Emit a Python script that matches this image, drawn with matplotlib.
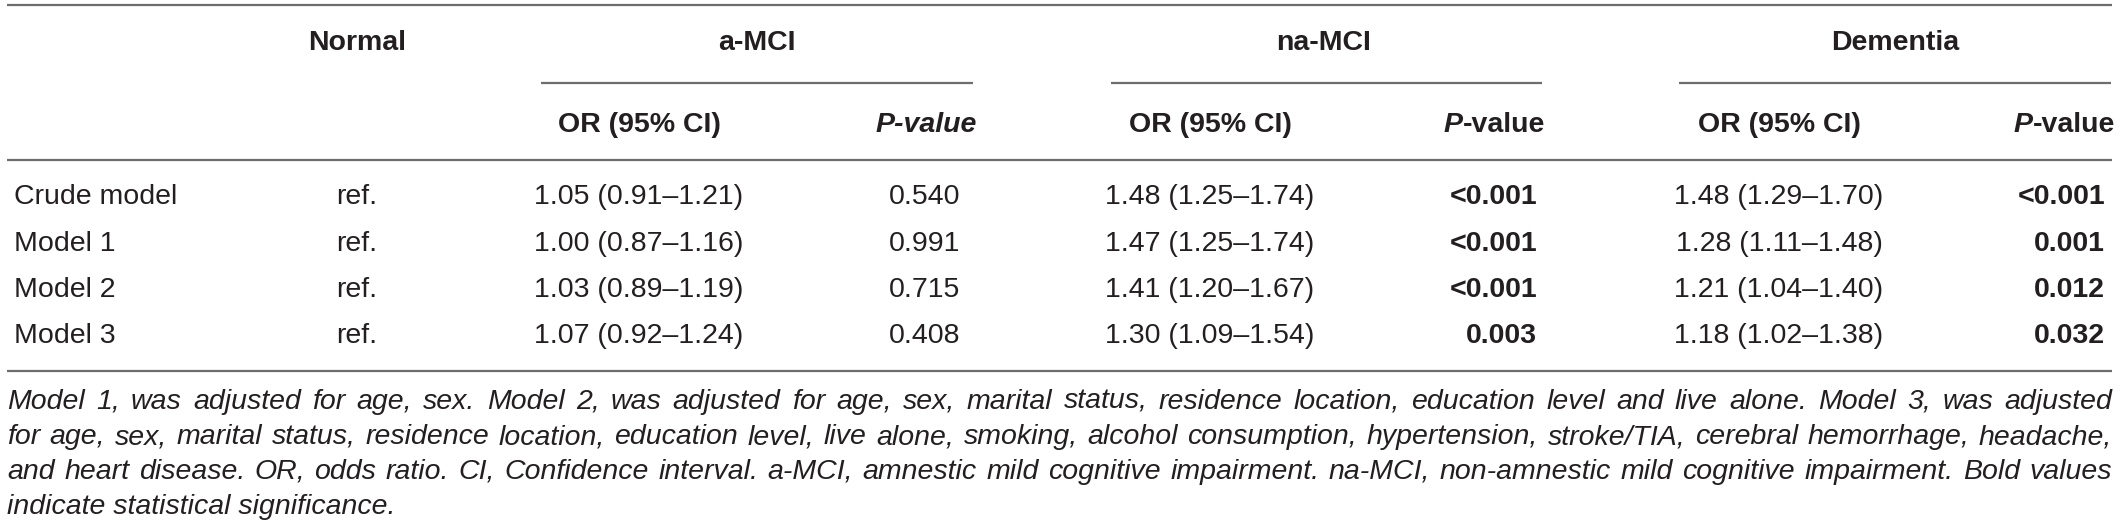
import matplotlib
matplotlib.use("Agg")
import matplotlib.pyplot as plt

# Table content
groups = ["Normal", "a-MCI", "na-MCI", "Dementia"]
models = ["Crude model", "Model 1", "Model 2", "Model 3"]
normal_ref = ["ref.", "ref.", "ref.", "ref."]
amci_or = ["1.05 (0.91\u20131.21)", "1.00 (0.87\u20131.16)", "1.03 (0.89\u20131.19)", "1.07 (0.92\u20131.24)"]
amci_p = ["0.540", "0.991", "0.715", "0.408"]
namci_or = ["1.48 (1.25\u20131.74)", "1.47 (1.25\u20131.74)", "1.41 (1.20\u20131.67)", "1.30 (1.09\u20131.54)"]
namci_p = ["<0.001", "<0.001", "<0.001", "0.003"]
dem_or = ["1.48 (1.29\u20131.70)", "1.28 (1.11\u20131.48)", "1.21 (1.04\u20131.40)", "1.18 (1.02\u20131.38)"]
dem_p = ["<0.001", "0.001", "0.012", "0.032"]

caption_lines = [
    "Model 1, was adjusted for age, sex. Model 2, was adjusted for age, sex, marital status, residence location, education level and live alone. Model 3, was adjusted",
    "for age, sex, marital status, residence location, education level, live alone, smoking, alcohol consumption, hypertension, stroke/TIA, cerebral hemorrhage, headache,",
    "and heart disease. OR, odds ratio. CI, Confidence interval. a-MCI, amnestic mild cognitive impairment. na-MCI, non-amnestic mild cognitive impairment. Bold values",
    "indicate statistical significance.",
]

plt.rcParams['font.family'] = ['Liberation Sans', 'DejaVu Sans']
FS = 20.5
TXT = '#231f20'
RULE = '#6d6d6d'

W, H = 2121, 532
fig = plt.figure(figsize=(W / 100, H / 100), dpi=100)
ax = fig.add_axes([0, 0, 1, 1])
ax.set_xlim(0, W)
ax.set_ylim(H, 0)
ax.axis('off')

# layout (pixels)
x_left, x_right = 7, 2112
x_label = 14
x_normal = 357
or_cols = [639, 1210, 1779]
p_cols = [960, 1537, 2105]
p_head = [977, 1545, 2115]
group_x = [357, 757, 1324, 1895]
spans = [(541, 973), (1111, 1542), (1679, 2111)]
y_top, y_head1, y_span, y_head2, y_mid = 5, 43, 83, 125, 160
row_y = [197, 244, 290, 336]
y_bottom = 371
cap_y = [402, 437, 472, 507]

# rules
for yy in (y_top, y_mid, y_bottom):
    ax.plot([x_left, x_right], [yy, yy], color=RULE, lw=1.6, solid_capstyle='butt')
for a, b in spans:
    ax.plot([a, b], [y_span, y_span], color=RULE, lw=1.6, solid_capstyle='butt')

# header rows
for g, gx in zip(groups, group_x):
    ax.text(gx, y_head1, g, ha='center', va='center', fontsize=FS, fontweight='bold', color=TXT)

for i, (ox, px) in enumerate(zip(or_cols, p_head)):
    ax.text(ox, y_head2, "OR (95% CI)", ha='center', va='center', fontsize=FS, fontweight='bold', color=TXT)
    if i == 0:
        ax.text(px, y_head2, "P-value", ha='right', va='center', fontsize=FS, fontweight='bold',
                fontstyle='italic', color=TXT)
    else:
        t2 = ax.text(px, y_head2, "-value", ha='right', va='center', fontsize=FS, fontweight='bold', color=TXT)
        ax.annotate("P", xy=(0, 0), xycoords=t2, ha='right', va='bottom', fontsize=FS,
                    fontweight='bold', fontstyle='italic', color=TXT)

# body rows
def is_sig(p):
    return p.startswith('<') or float(p) < 0.05

for r, yy in enumerate(row_y):
    ax.text(x_label, yy, models[r], ha='left', va='center', fontsize=FS, color=TXT)
    ax.text(x_normal, yy, normal_ref[r], ha='center', va='center', fontsize=FS, color=TXT)
    for ors, ps, ox, px in zip([amci_or, namci_or, dem_or], [amci_p, namci_p, dem_p], or_cols, p_cols):
        ax.text(ox, yy, ors[r], ha='center', va='center', fontsize=FS, color=TXT)
        ax.text(px, yy, ps[r], ha='right', va='center', fontsize=FS, color=TXT,
                fontweight='bold' if is_sig(ps[r]) else 'normal')

# caption, justified
renderer = fig.canvas.get_renderer()
for k, (line, yy) in enumerate(zip(caption_lines, cap_y)):
    words = line.split(' ')
    if k == len(caption_lines) - 1:
        ax.text(x_left, yy, line, ha='left', va='center', fontsize=FS, fontstyle='italic', color=TXT)
        continue
    arts = [ax.text(0, yy, w, ha='left', va='center', fontsize=FS, fontstyle='italic', color=TXT)
            for w in words]
    widths = [a.get_window_extent(renderer).width for a in arts]
    gap = (x_right - x_left - sum(widths)) / (len(words) - 1)
    x = x_left
    for a, w in zip(arts, widths):
        a.set_x(x)
        x += w + gap

fig.savefig("out.png", dpi=100)
